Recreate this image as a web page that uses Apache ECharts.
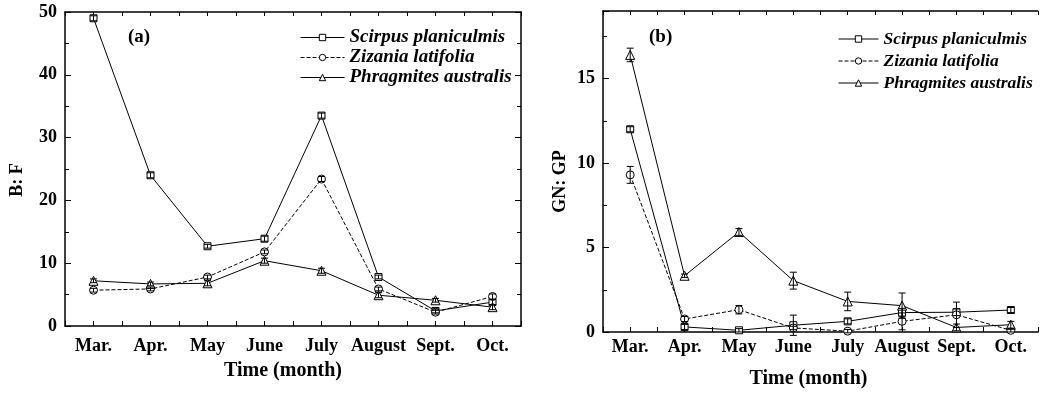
<!DOCTYPE html>
<html>
<head>
<meta charset="utf-8">
<script src="https://cdn.jsdelivr.net/npm/echarts@6/dist/echarts.min.js"></script>
<style>html,body{margin:0;padding:0;background:#fff;}#c{width:1041px;height:394px;}</style>
</head>
<body>
<div id="c"></div>
<script>
const months = ['Mar.', 'Apr.', 'May', 'June', 'July', 'August', 'Sept.', 'Oct.'];
const speciesNames = ['Scirpus planiculmis', 'Zizania latifolia', 'Phragmites australis'];

// Panel (a) B: F
const bfScirpus = [49.0, 24.0, 12.7, 13.9, 33.5, 7.8, 2.4, 3.8];
const bfZizania = [5.7, 5.9, 7.8, 11.8, 23.4, 5.9, 2.2, 4.7];
const bfPhragmites = [7.2, 6.7, 6.8, 10.4, 8.8, 4.9, 4.1, 3.0];
const bfErrScirpus = [0.4, 0.4, 0.3, 0.4, 0.4, 0.3, 0.3, 0.4];
const bfErrZizania = [0.3, 0.3, 0.3, 0.3, 0.4, 0.3, 0.3, 0.4];
const bfErrPhragmites = [0.3, 0.3, 0.4, 0.4, 0.4, 0.4, 0.3, 0.4];

// Panel (b) GN: GP
const gnScirpus = [12.0, 0.3, 0.1, 0.4, 0.63, 1.15, 1.17, 1.3];
const gnZizania = [9.3, 0.77, 1.32, 0.24, 0.05, 0.63, 1.02, 0.1];
const gnPhragmites = [16.4, 3.33, 5.92, 3.04, 1.81, 1.56, 0.27, 0.43];
const gnErrScirpus = [0.15, 0.15, 0.1, 0.6, 0.15, 0.25, 0.2, 0.15];
const gnErrZizania = [0.5, 0.15, 0.25, 0.1, 0.1, 0.5, 0.75, 0.1];
const gnErrPhragmites = [0.4, 0.1, 0.2, 0.5, 0.55, 0.75, 0.2, 0.2];

const yTicksA = {min: 0, max: 50, interval: 10};
const yTicksB = {min: 0, max: 19, interval: 5};

const FONT = 'Liberation Serif';
const chart = echarts.init(document.getElementById('c'), null, {renderer: 'canvas'});

const symbols = ['rect', 'circle', 'triangle'];
const symSizes = [7, 8, 9];
const lineTypes = ['solid', 'dashed', 'solid'];

function lineSeries(idx, vals, axisIdx) {
  return {
    type: 'line', name: speciesNames[idx], xAxisIndex: axisIdx * 2, yAxisIndex: axisIdx * 2,
    data: vals.map((v, i) => [i, v]),
    symbol: symbols[idx], symbolSize: symSizes[idx], showAllSymbol: true,
    lineStyle: {color: '#000', width: 1, type: lineTypes[idx]},
    itemStyle: {color: '#fff', borderColor: '#000', borderWidth: 1},
    z: 2, animation: false
  };
}
function errSeries(vals, errs, axisIdx) {
  return {
    type: 'custom', name: 'err', xAxisIndex: axisIdx * 2, yAxisIndex: axisIdx * 2,
    data: vals.map((v, i) => [i, v - errs[i], v + errs[i]]),
    renderItem: function (params, api) {
      const x = api.value(0);
      const lo = api.coord([x, api.value(1)]);
      const hi = api.coord([x, api.value(2)]);
      const w = 3.5;
      const st = {stroke: '#000', lineWidth: 1};
      return {type: 'group', children: [
        {type: 'line', shape: {x1: lo[0], y1: lo[1], x2: hi[0], y2: hi[1]}, style: st},
        {type: 'line', shape: {x1: lo[0] - w, y1: lo[1], x2: lo[0] + w, y2: lo[1]}, style: st},
        {type: 'line', shape: {x1: hi[0] - w, y1: hi[1], x2: hi[0] + w, y2: hi[1]}, style: st}
      ]};
    },
    z: 3, silent: true, animation: false
  };
}

const labelStyle = {fontFamily: FONT, fontWeight: 'bold', fontSize: 18, color: '#000'};
const axisLineStyle = {show: true, onZero: false, lineStyle: {color: '#000', width: 1.5}};

function xAxes(gridIndex, nameGap, namePad, labelMargin) {
  return [{
    type: 'value', gridIndex: gridIndex, position: 'bottom', min: -0.5, max: 7.5, interval: 0.5,
    axisLine: axisLineStyle, splitLine: {show: false},
    axisTick: {show: true, inside: true, length: 5, lineStyle: {color: '#000', width: 1}},
    axisLabel: Object.assign({margin: labelMargin, showMinLabel: true, showMaxLabel: true,
      formatter: v => (Number.isInteger(v) && v >= 0 && v < months.length) ? months[v] : ''}, labelStyle),
    name: 'Time (month)', nameLocation: 'middle', nameGap: nameGap,
    nameTextStyle: {fontFamily: FONT, fontWeight: 'bold', fontSize: 20, color: '#000', padding: [0, namePad, 0, 0]}
  }, {
    type: 'value', gridIndex: gridIndex, position: 'top', min: -0.5, max: 7.5, interval: 0.5,
    axisLine: axisLineStyle, splitLine: {show: false},
    axisTick: {show: true, inside: true, length: 4, lineStyle: {color: '#000', width: 1}},
    axisLabel: {show: false}
  }];
}
function yAxes(gridIndex, ticks, name, nameGap, namePad, withRight) {
  const arr = [{
    type: 'value', gridIndex: gridIndex, position: 'left', min: ticks.min, max: ticks.max, interval: ticks.interval,
    axisLine: axisLineStyle, splitLine: {show: false},
    axisTick: {show: true, inside: true, length: 6, lineStyle: {color: '#000', width: 1}},
    minorTick: {show: true, splitNumber: 2, length: 4, lineStyle: {color: '#000', width: 1}},
    axisLabel: Object.assign({margin: 8, formatter: v => (v % ticks.interval === 0 ? String(v) : '')}, labelStyle),
    name: name, nameLocation: 'middle', nameGap: nameGap,
    nameTextStyle: {fontFamily: FONT, fontWeight: 'bold', fontSize: 18, color: '#000', padding: [0, namePad, 0, 0]}
  }];
  arr.push({
    type: 'value', gridIndex: gridIndex, position: 'right', min: ticks.min, max: ticks.max, interval: ticks.interval,
    axisLine: withRight ? axisLineStyle : {show: false, onZero: false}, splitLine: {show: false},
    axisTick: {show: withRight, inside: true, length: 6, lineStyle: {color: '#000', width: 1}},
    minorTick: {show: withRight, splitNumber: 2, length: 4, lineStyle: {color: '#000', width: 1}},
    axisLabel: {show: false}
  });
  return arr;
}

function legendCfg(fontSize) {
  return {
    orient: 'vertical', data: speciesNames, itemHeight: 8, padding: 0,
    lineStyle: {width: 1}, itemStyle: {borderWidth: 1},
    textStyle: {fontFamily: FONT, fontStyle: 'italic', fontWeight: 'bold', fontSize: fontSize, color: '#000'},
    selectedMode: false
  };
}

const option = {
  backgroundColor: '#fff',
  animation: false,
  grid: [
    {left: 65, top: 12, right: 520, bottom: 68},
    {left: 603, top: 11, right: -4, bottom: 62}
  ],
  xAxis: [].concat(xAxes(0, 35, 20, 11), xAxes(1, 37, 24, 6)),
  yAxis: [].concat(yAxes(0, yTicksA, 'B: F', 39, 22, true), yAxes(1, yTicksB, 'GN: GP', 34, 20, false)),
  legend: [
    Object.assign({left: 300, top: 28, itemWidth: 44, itemGap: 1}, legendCfg(19)),
    Object.assign({left: 838, top: 30, itemWidth: 40, itemGap: 4}, legendCfg(17.5))
  ],
  graphic: [
    {type: 'text', left: 128, top: 28, style: {text: '(a)', font: 'bold 19px "Liberation Serif"', fill: '#000'}},
    {type: 'text', left: 649, top: 28, style: {text: '(b)', font: 'bold 19px "Liberation Serif"', fill: '#000'}}
  ],
  series: [
    lineSeries(0, bfScirpus, 0), lineSeries(1, bfZizania, 0), lineSeries(2, bfPhragmites, 0),
    errSeries(bfScirpus, bfErrScirpus, 0), errSeries(bfZizania, bfErrZizania, 0), errSeries(bfPhragmites, bfErrPhragmites, 0),
    lineSeries(0, gnScirpus, 1), lineSeries(1, gnZizania, 1), lineSeries(2, gnPhragmites, 1),
    errSeries(gnScirpus, gnErrScirpus, 1), errSeries(gnZizania, gnErrZizania, 1), errSeries(gnPhragmites, gnErrPhragmites, 1)
  ]
};
chart.setOption(option);
</script>
</body>
</html>
